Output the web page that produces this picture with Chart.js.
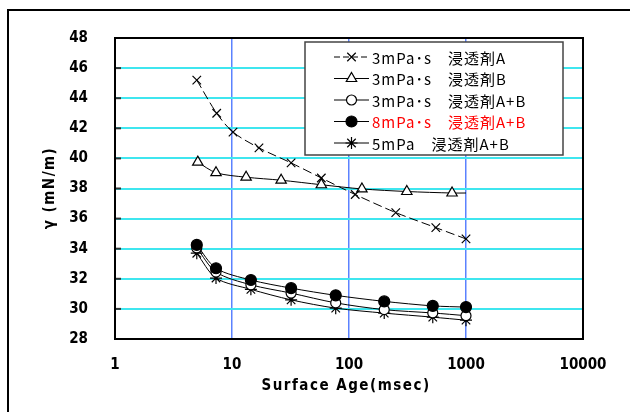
<!DOCTYPE html>
<html>
<head>
<meta charset="utf-8">
<script src="https://cdn.jsdelivr.net/npm/chart.js@4.4.0/dist/chart.umd.min.js"></script>
<style>
  html, body { margin: 0; padding: 0; background: #fff; }
</style>
</head>
<body>
<canvas id="chart" width="630" height="412"></canvas>
<script>
// データ
const seriesLabels = ['3mPa･s　浸透剤A', '3mPa･s　浸透剤B', '3mPa･s　浸透剤A+B', '8mPa･s　浸透剤A+B', '5mPa　浸透剤A+B'];
const xTicks = [1, 10, 100, 1000, 10000];

const ageA = [5.0, 7.4, 10.2, 17, 32, 58, 113, 251, 552, 1000];
const gammaA = [45.2, 43.0, 41.75, 40.7, 39.7, 38.7, 37.6, 36.4, 35.4, 34.65];

const ageB = [5.1, 7.3, 13.2, 26.3, 58, 129, 312, 760, 1000];
const gammaB = [39.75, 39.05, 38.75, 38.55, 38.25, 37.97, 37.8, 37.7, 37.7];

const ageAB = [5.0, 7.3, 14.5, 32, 77, 200, 520, 1000];
const gamma3AB = [34.05, 32.45, 31.6, 31.05, 30.4, 29.95, 29.73, 29.55];
const gamma8AB = [34.25, 32.7, 31.92, 31.38, 30.9, 30.5, 30.2, 30.12];
const gamma5AB = [33.7, 32.05, 31.3, 30.6, 30.05, 29.72, 29.45, 29.25];

const pts = (xs, ys) => xs.map((x, i) => ({ x: x, y: ys[i] }));

const base = {
  borderColor: '#000',
  borderWidth: 1,
  pointBorderColor: '#000',
  pointBorderWidth: 1.2,
  tension: 0.3,
  fill: false
};

const datasets = [
  Object.assign({}, base, {
    label: seriesLabels[0], data: pts(ageA, gammaA),
    borderDash: [9, 4], pointStyle: 'crossRot', pointRadius: 6,
    pointBackgroundColor: '#fff', order: 0
  }),
  Object.assign({}, base, {
    label: seriesLabels[1], data: pts(ageB, gammaB),
    pointStyle: 'triangle', pointBackgroundColor: '#fff', order: 0,
    pointRadius: c => (c.dataIndex === ageB.length - 1 ? 0 : 6)
  }),
  Object.assign({}, base, {
    label: seriesLabels[2], data: pts(ageAB, gamma3AB),
    pointStyle: 'circle', pointRadius: 5, pointBackgroundColor: '#fff', order: 1
  }),
  Object.assign({}, base, {
    label: seriesLabels[3], data: pts(ageAB, gamma8AB),
    pointStyle: 'circle', pointRadius: 5.5, pointBackgroundColor: '#000', order: 0
  }),
  Object.assign({}, base, {
    label: seriesLabels[4], data: pts(ageAB, gamma5AB),
    pointStyle: 'star', pointRadius: 6, pointBackgroundColor: '#000', order: 2
  })
];

const legendColors = ['#000', '#000', '#000', '#ff0000', '#000'];

// 枠・凡例・軸タイトル
const decor = {
  id: 'decor',
  beforeDraw(chart) {
    const c = chart.ctx;
    c.save();
    c.fillStyle = '#fff';
    c.fillRect(0, 0, chart.width, chart.height);
    c.strokeStyle = '#000';
    c.lineWidth = 2;
    c.strokeRect(8, 10, 700, 500);
    c.restore();
  },
  afterDatasetsDraw(chart) {
    const c = chart.ctx;
    const a = chart.chartArea;
    const ys = chart.scales.y;
    c.save();
    // y軸の目盛り
    c.strokeStyle = '#333';
    c.lineWidth = 2;
    ys.ticks.forEach(t => {
      const py = ys.getPixelForValue(t.value);
      c.beginPath(); c.moveTo(a.left, py); c.lineTo(a.left + 6, py); c.stroke();
    });
    c.strokeStyle = '#000';
    c.lineWidth = 2;
    c.strokeRect(a.left, a.top, a.right - a.left, a.bottom - a.top);

    // 凡例
    c.fillStyle = '#fff';
    c.fillRect(305, 42, 258, 113);
    c.strokeStyle = '#444';
    c.lineWidth = 1.5;
    c.strokeRect(305, 42, 258, 113);
    chart.data.datasets.forEach((ds, i) => {
      const y = 57 + i * 21.5;
      c.strokeStyle = '#000';
      c.lineWidth = 1;
      c.setLineDash(ds.borderDash ? [6, 3] : []);
      c.beginPath(); c.moveTo(334, y); c.lineTo(369, y); c.stroke();
      c.setLineDash([]);
      c.fillStyle = ds.pointBackgroundColor;
      c.strokeStyle = '#000';
      c.lineWidth = 1.2;
      Chart.helpers.drawPoint(c, {
        pointStyle: ds.pointStyle,
        radius: typeof ds.pointRadius === 'number' ? ds.pointRadius : 6,
        borderWidth: 1.2, rotation: 0
      }, 351.5, y);
      c.fillStyle = legendColors[i];
      c.font = '15px "Noto Sans CJK JP", sans-serif';
      c.letterSpacing = '1px';
      c.textAlign = 'left';
      c.textBaseline = 'middle';
      c.fillText(ds.label, 372, y + 1);
      c.letterSpacing = '0px';
    });
    c.restore();
  },
  afterDraw(chart) {
    const c = chart.ctx;
    c.save();
    c.fillStyle = '#000';
    c.font = 'bold 15px "DejaVu Sans Condensed", "DejaVu Sans", sans-serif';
    c.textAlign = 'center';
    c.textBaseline = 'middle';
    c.letterSpacing = '1.5px';
    c.fillText('Surface Age(msec)', 346, 386);
    c.translate(50, 188);
    c.rotate(-Math.PI / 2);
    c.fillText('γ (mN/m)', 0, 0);
    c.restore();
  }
};

const tickFont = { family: '"DejaVu Sans Condensed", "DejaVu Sans", sans-serif', size: 15, weight: 'bold' };

new Chart(document.getElementById('chart'), {
  type: 'line',
  data: { datasets: datasets },
  options: {
    responsive: false,
    animation: false,
    devicePixelRatio: 1,
    layout: { padding: { left: 0, top: 38, right: 47, bottom: 0 } },
    plugins: { legend: { display: false }, tooltip: { enabled: false } },
    scales: {
      x: {
        type: 'logarithmic',
        min: 1,
        max: 10000,
        afterBuildTicks: s => { s.ticks = xTicks.map(v => ({ value: v })); },
        afterFit: s => { s.height = 73; },
        ticks: { color: '#000', font: tickFont, padding: 17, maxRotation: 0, autoSkip: false,
          callback: v => String(v) },
        grid: { color: '#5b82ff', lineWidth: 1.5, drawTicks: false },
        border: { display: false }
      },
      y: {
        min: 28,
        max: 48,
        afterFit: s => { s.width = 115; },
        ticks: { stepSize: 2, color: '#000', font: tickFont, padding: 27 },
        grid: { color: '#3fe6ef', lineWidth: 2, drawTicks: false },
        border: { display: false }
      }
    }
  },
  plugins: [decor]
});
</script>
</body>
</html>
